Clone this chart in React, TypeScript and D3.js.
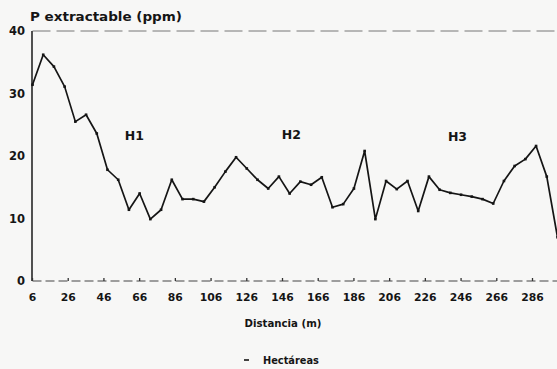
import React from "react";
import * as d3 from "d3";

const distances = [6, 12, 18, 24, 30, 36, 42, 48, 54, 60, 66, 72, 78, 84, 90, 96, 102, 108, 114, 120, 126, 132, 138, 144, 150, 156, 162, 168, 174, 180, 186, 192, 198, 204, 210, 216, 222, 228, 234, 240, 246, 252, 258, 264, 270, 276, 282, 288, 294, 300];
const pValues = [31.4, 36.2, 34.3, 31.1, 25.5, 26.6, 23.6, 17.8, 16.2, 11.4, 14.0, 9.9, 11.4, 16.2, 13.1, 13.1, 12.7, 15.0, 17.5, 19.8, 18.0, 16.2, 14.8, 16.7, 14.0, 15.9, 15.4, 16.6, 11.8, 12.3, 14.8, 20.8, 9.9, 16.0, 14.7, 16.0, 11.2, 16.7, 14.6, 14.1, 13.8, 13.5, 13.1, 12.4, 16.0, 18.4, 19.5, 21.6, 16.7, 7.0];
const xTicks = [6, 26, 46, 66, 86, 106, 126, 146, 166, 186, 206, 226, 246, 266, 286];
const yTicks = [0, 10, 20, 30, 40];
const zoneLabels = ["H1", "H2", "H3"];
const zoneCenters = [63, 151, 244];
const zoneValues = [23.3, 23.5, 23.2];

const W = 557;
const H = 369;
const FONT = "'DejaVu Sans', 'Liberation Sans', sans-serif";

export default function App() {
  const x = d3.scaleLinear().domain([6, 300]).range([32.5, 557.5]);
  const y = d3.scaleLinear().domain([0, 40]).range([281, 31]);
  const line = d3
    .line<number>()
    .x((_, i) => x(distances[i]))
    .y((d) => y(d));
  const ink = "#151515";

  return (
    <svg
      width={W}
      height={H}
      style={{ position: "fixed", left: 0, top: 0, background: "#f7f7f6" }}
      fontFamily={FONT}
    >
      <rect x={0} y={0} width={W} height={H} fill="#f7f7f6" />
      <line x1={x(6)} x2={W} y1={y(40)} y2={y(40)} stroke="#777" strokeWidth={1} strokeDasharray="18 6" />
      <line x1={x(6) - 0.5} x2={x(6) - 0.5} y1={y(40)} y2={y(0)} stroke="#333" strokeWidth={1.7} />
      <line x1={x(6)} x2={W} y1={y(0)} y2={y(0)} stroke="#444" strokeWidth={1.1} strokeDasharray="9 4" />
      {xTicks.map((t) => (
        <line key={"xt" + t} x1={x(t)} x2={x(t)} y1={y(0)} y2={y(0) - 3} stroke="#333" strokeWidth={1.3} />
      ))}
      {yTicks.map((t) => (
        <text
          key={"yl" + t}
          x={25}
          y={y(t)}
          dy="0.36em"
          textAnchor="end"
          fontSize={11.5}
          fontWeight="bold"
          fill={ink}
        >
          {t}
        </text>
      ))}
      {xTicks.map((t) => (
        <text
          key={"xl" + t}
          x={x(t)}
          y={297}
          dy="0.36em"
          textAnchor="middle"
          fontSize={10.8}
          fontWeight="bold"
          fill={ink}
        >
          {t}
        </text>
      ))}
      <text x={30} y={21} fontSize={12.5} fontWeight="bold" fill={ink} textLength={152} lengthAdjust="spacingAndGlyphs">
        P extractable (ppm)
      </text>
      <text x={283} y={323} dy="0.36em" textAnchor="middle" fontSize={10.2} fontWeight="bold" fill={ink}>
        Distancia (m)
      </text>
      <line x1={244} x2={249} y1={360} y2={360} stroke={ink} strokeWidth={1.6} />
      <text x={263} y={360} dy="0.36em" fontSize={9.8} fontWeight="bold" fill={ink}>
        Hectáreas
      </text>
      {zoneLabels.map((l, i) => (
        <text
          key={l}
          x={x(zoneCenters[i])}
          y={y(zoneValues[i])}
          dy="0.36em"
          textAnchor="middle"
          fontSize={12.5}
          fontWeight="bold"
          fill={ink}
        >
          {l}
        </text>
      ))}
      <path d={line(pValues) || ""} fill="none" stroke={ink} strokeWidth={1.7} strokeLinejoin="round" />
      {pValues.map((v, i) => (
        <rect key={"m" + i} x={x(distances[i]) - 1.3} y={y(v) - 1.3} width={2.6} height={2.6} fill={ink} />
      ))}
    </svg>
  );
}
